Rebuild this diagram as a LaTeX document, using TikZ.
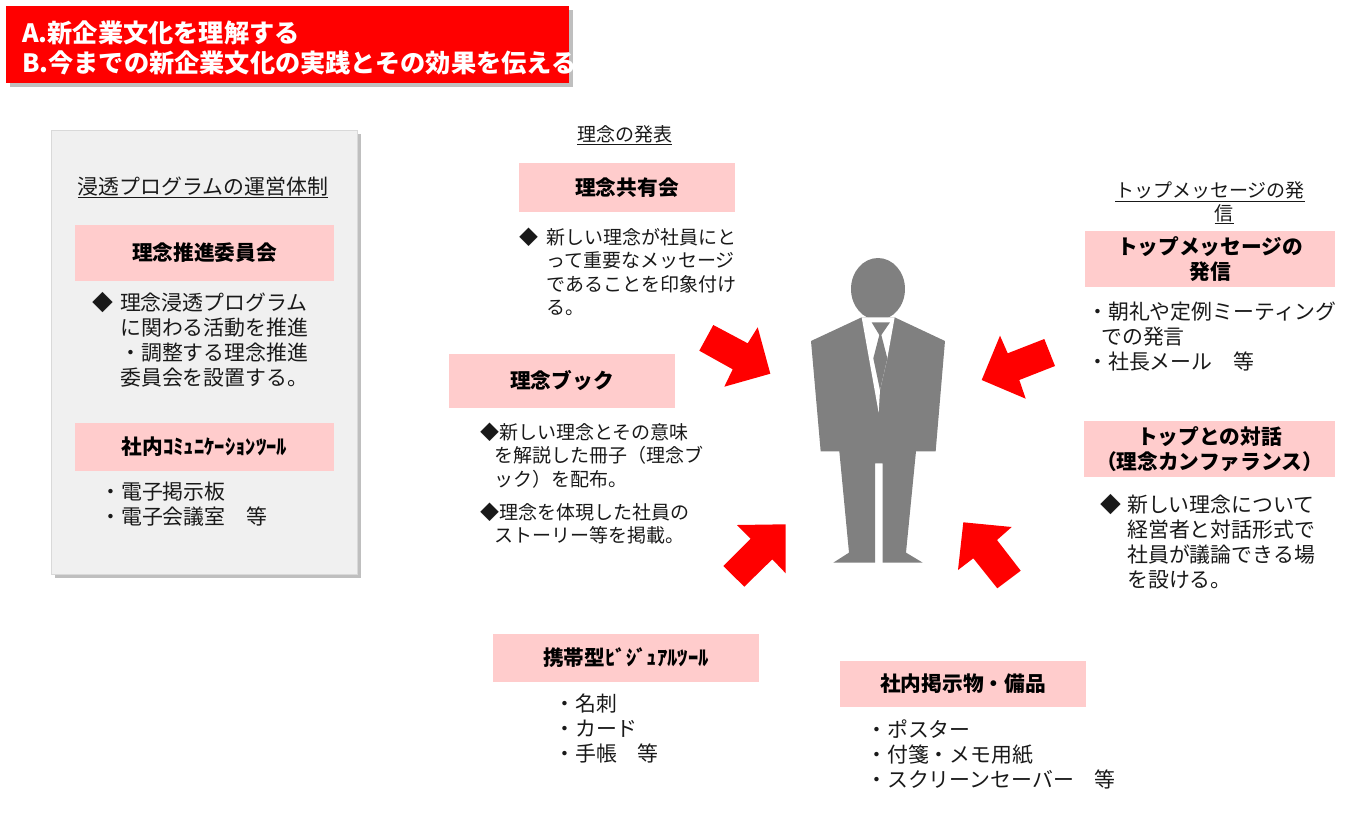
\documentclass[tikz,border=0pt]{standalone}
\usepackage{fontspec}
\setmainfont{Noto Sans CJK JP}
\usetikzlibrary{shadows}

\begin{document}
\begin{tikzpicture}
    [
    x=1pt,y=-1pt,
    titlebox/.style={fill=red,drop shadow={shadow xshift=4pt,shadow yshift=-4pt,opacity=.5}},
    panel/.style={fill=black!6,draw=black!15,line width=1.5pt,drop shadow={shadow xshift=4pt,shadow yshift=-4pt,opacity=.5}},
    headbox/.style={fill=red!20,font=\fontsize{20.7}{25}\selectfont\bfseries,align=center,inner sep=0pt,text=black},
    body/.style={anchor=north west,inner sep=0pt,align=left,font=\fontsize{20.9}{25}\selectfont,text=black!90},
    smallbody/.style={body,font=\fontsize{19}{23.2}\selectfont},
    caption/.style={inner sep=0pt,align=center,font=\fontsize{19}{23}\selectfont,text=black!90},
    blockarrow/.style={fill=red},
    man/.style={fill=black!50}
    ]
\useasboundingbox (0,0) rectangle (1365,812);
% title
\node[titlebox,minimum width=563pt,minimum height=77pt,inner sep=0pt,anchor=north west] (title) at (6,6) {};
\node[anchor=west,inner sep=0pt,align=left,text=white,font=\fontsize{25.2}{30}\selectfont\bfseries] (titletext) at (22,48) {A.新企業文化を理解する\\B.今までの新企業文化の実践とその効果を伝える};
% left panel
\node[panel,minimum width=306pt,minimum height=444pt,inner sep=0pt,anchor=north west] (panel) at (50.5,129.5) {};
\node[caption,font=\fontsize{20.9}{25}\selectfont] (capsystem) at (203,187.5) {\underline{浸透プログラムの運営体制}};
\node[headbox,minimum width=259pt,minimum height=56pt] (promo) at (204.5,253) {\raisebox{-1pt}{理念推進委員会}};
\node[body] (promotext) at (92,292) {◆\hspace{7pt}理念浸透プログラム\\\hspace{28pt}に関わる活動を推進\\\hspace{28pt}・調整する理念推進\\\hspace{28pt}委員会を設置する。};
\node[headbox,minimum width=259pt,minimum height=48pt] (comm) at (204.5,447) {\raisebox{-1pt}{社内ｺﾐｭﾆｹｰｼｮﾝﾂｰﾙ}};
\node[body] (commtext) at (100,482) {・電子掲示板\\・電子会議室　等};
% centre column
\node[caption] (capannounce) at (624.5,135) {\underline{理念の発表}};
\node[headbox,minimum width=216pt,minimum height=49pt] (share) at (627,187.5) {\raisebox{-1pt}{理念共有会}};
\node[smallbody] (sharetext) at (519,228) {◆\hspace{8pt}新しい理念が社員にと\\\hspace{27pt}って重要なメッセージ\\\hspace{27pt}であることを印象付け\\\hspace{27pt}る。};
\node[headbox,minimum width=226pt,minimum height=54pt] (book) at (562,381) {理念ブック};
\node[smallbody] (booktext) at (480,423) {◆新しい理念とその意味\\\hspace{14pt}を解説した冊子（理念ブ\\\hspace{14pt}ック）を配布。\\[10pt]◆理念を体現した社員の\\\hspace{14pt}ストーリー等を掲載。};
\node[headbox,minimum width=266pt,minimum height=48pt] (mobile) at (626,658) {携帯型ﾋﾞｼﾞｭｱﾙﾂｰﾙ};
\node[body] (mobiletext) at (554,694) {・名刺\\・カード\\・手帳　等};
\node[headbox,minimum width=246pt,minimum height=46pt] (posted) at (963,684) {社内掲示物・備品};
\node[body] (postedtext) at (866,720) {・ポスター\\・付箋・メモ用紙\\・スクリーンセーバー　等};
% right column
\node[caption] (capmessage) at (1210,203) {\underline{トップメッセージの発}\\\hspace{28pt}\underline{信}};
\node[headbox,minimum width=250pt,minimum height=56pt] (message) at (1210,259) {トップメッセージの\\発信};
\node[body] (messagetext) at (1087,302) {・朝礼や定例ミーティング\\\hspace{14pt}での発言\\・社長メール　等};
\node[headbox,minimum width=251pt,minimum height=56pt] (dialog) at (1209.5,449) {トップとの対話\\（理念カンファランス）};
\node[body] (dialogtext) at (1100,494) {◆\hspace{6pt}新しい理念について\\\hspace{27pt}経営者と対話形式で\\\hspace{27pt}社員が議論できる場\\\hspace{27pt}を設ける。};
% arrows
\fill[blockarrow] (770.3,373.7) -- (724.3,386.7) -- (732.7,369.3) -- (699.3,350.7) -- (713.3,325) -- (747.7,343.3) -- (757.7,327.3) -- cycle;
\fill[blockarrow] (981.7,380) -- (1000,335.7) -- (1007.7,353.3) -- (1044.3,339) -- (1055,366) -- (1019.3,380) -- (1025.7,398.7) -- cycle;
\fill[blockarrow] (785.7,524.3) -- (785.7,573.3) -- (772.3,559.3) -- (744.3,586.7) -- (723.3,566) -- (750.7,538.7) -- (737,525) -- cycle;
\fill[blockarrow] (963.3,522.3) -- (1011.7,527) -- (997,540) -- (1020.7,570.7) -- (997.3,588.3) -- (973.3,558.3) -- (958,570) -- cycle;
% man
\begin{scope}[shift={(780,240)},x=0.3333pt,y=-0.3333pt]
\fill[man] (294,147) ellipse [x radius=81,y radius=93];
\fill[man] (245,232) -- (93,303) -- (122,634) -- (178,634) -- (207,938) -- (160,968) -- (285,968) -- (285,670) -- (308,670) -- (308,968) -- (428,968) -- (378,938) -- (408,634) -- (467,634) -- (495,303) -- (344,232) -- cycle;
\fill[white] (245,232) -- (344,232) -- (322,355) -- (300,450) -- (296,518) -- cycle;
\fill[man] (275,247) -- (330,247) -- (304,285) -- (322,355) -- (300,450) -- (280,355) -- (298,285) -- cycle;
\end{scope}
\end{tikzpicture}
\end{document}
